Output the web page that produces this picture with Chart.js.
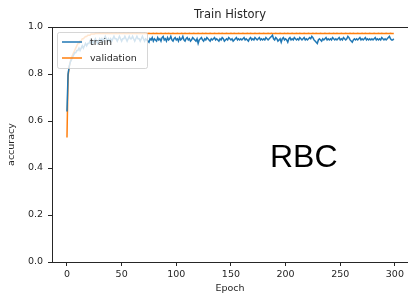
<!DOCTYPE html>
<html>
<head>
<meta charset="utf-8">
<script src="https://cdn.jsdelivr.net/npm/chart.js@4/dist/chart.umd.min.js"></script>
<style>
  html, body { margin: 0; padding: 0; background: #fff; }
  #wrap { width: 408px; height: 297px; }
</style>
</head>
<body>
<div id="wrap"><canvas id="myCanvas" width="408" height="297"></canvas></div>
<script>
// accuracy per epoch
const train = [
  0.64,0.80,0.83,0.85,0.86,0.87,0.88,0.89,0.89,0.90,0.90,0.91,0.90,0.91,0.92,0.91,0.92,0.93,0.92,0.93,
  0.93,0.94,0.93,0.94,0.93,0.94,0.95,0.94,0.93,0.94,0.95,0.94,0.95,0.94,0.95,0.96,0.95,0.94,0.95,0.94,
  0.95,0.94,0.95,0.96,0.95,0.95,0.94,0.95,0.96,0.95,0.94,0.95,0.95,0.96,0.95,0.94,0.95,0.96,0.95,0.95,
  0.96,0.95,0.94,0.95,0.96,0.95,0.95,0.94,0.95,0.96,0.95,0.94,0.95,0.945,0.94,0.935,0.95,0.945,0.955,0.94,
  0.95,0.945,0.94,0.955,0.945,0.95,0.94,0.955,0.96,0.945,0.95,0.94,0.955,0.945,0.95,0.96,0.945,0.94,0.95,0.955,
  0.945,0.95,0.94,0.955,0.945,0.95,0.96,0.945,0.94,0.95,0.955,0.945,0.95,0.94,0.945,0.955,0.95,0.945,0.94,0.95,
  0.93,0.945,0.95,0.955,0.945,0.94,0.95,0.945,0.955,0.95,0.945,0.94,0.95,0.945,0.95,0.955,0.945,0.95,0.945,0.94,
  0.95,0.945,0.955,0.95,0.94,0.945,0.95,0.945,0.955,0.95,0.945,0.95,0.94,0.945,0.95,0.955,0.945,0.95,0.945,0.95,
  0.945,0.95,0.955,0.945,0.95,0.945,0.94,0.95,0.955,0.945,0.95,0.945,0.955,0.95,0.945,0.95,0.955,0.945,0.95,0.945,
  0.95,0.945,0.955,0.95,0.945,0.95,0.955,0.96,0.965,0.95,0.945,0.955,0.95,0.94,0.945,0.95,0.935,0.95,0.955,0.945,
  0.95,0.945,0.935,0.95,0.955,0.945,0.95,0.945,0.955,0.95,0.945,0.95,0.945,0.955,0.95,0.945,0.95,0.955,0.945,0.95,
  0.945,0.95,0.955,0.95,0.96,0.955,0.945,0.94,0.935,0.93,0.945,0.95,0.945,0.94,0.95,0.945,0.95,0.955,0.945,0.95,
  0.945,0.95,0.945,0.955,0.95,0.945,0.95,0.945,0.95,0.955,0.945,0.95,0.945,0.955,0.95,0.945,0.95,0.96,0.955,0.945,
  0.94,0.935,0.945,0.95,0.945,0.95,0.945,0.95,0.955,0.945,0.95,0.945,0.95,0.955,0.945,0.95,0.945,0.95,0.945,0.95,
  0.945,0.95,0.955,0.945,0.95,0.945,0.95,0.945,0.955,0.95,0.945,0.95,0.945,0.95,0.955,0.96,0.95,0.945,0.945,0.95
];
const validation = [
  0.53,0.79,0.83,0.85,0.87,0.88,0.89,0.90,0.91,0.92,0.93,0.93,0.94,0.94,0.95,0.95,0.955,0.96,0.96,0.965,
  0.965,0.965,0.97,0.97,0.97,0.97,0.972,0.972,0.972,0.972,0.973,0.972,0.972,0.973,0.972,0.972,0.972,0.973,0.972,0.972,
  0.972,0.973,0.972,0.972,0.972,0.973,0.972,0.972,0.973,0.972,0.972,0.972,0.973,0.972,0.972,0.972,0.973,0.972,0.972,0.972,
  0.973,0.972,0.972,0.972,0.973,0.972,0.972,0.973,0.972,0.972,0.972,0.973,0.972,0.972,0.972,0.973,0.972,0.972,0.972,0.973,
  0.972,0.972,0.973,0.972,0.972,0.972,0.973,0.972,0.972,0.972,0.973,0.972,0.972,0.973,0.972,0.972,0.972,0.973,0.972,0.972,
  0.972,0.973,0.972,0.972,0.972,0.973,0.972,0.972,0.973,0.972,0.972,0.972,0.973,0.972,0.972,0.972,0.973,0.972,0.972,0.972,
  0.973,0.972,0.972,0.972,0.973,0.972,0.972,0.973,0.972,0.972,0.972,0.973,0.972,0.972,0.972,0.973,0.972,0.972,0.972,0.973,
  0.972,0.972,0.973,0.972,0.972,0.972,0.973,0.972,0.972,0.972,0.973,0.972,0.972,0.973,0.972,0.972,0.972,0.973,0.972,0.972,
  0.972,0.973,0.972,0.972,0.972,0.973,0.972,0.972,0.973,0.972,0.972,0.972,0.973,0.972,0.972,0.972,0.973,0.972,0.972,0.972,
  0.973,0.972,0.972,0.972,0.973,0.972,0.972,0.973,0.972,0.972,0.972,0.973,0.972,0.972,0.972,0.973,0.972,0.972,0.972,0.973,
  0.972,0.972,0.973,0.972,0.972,0.972,0.973,0.972,0.972,0.972,0.973,0.972,0.972,0.973,0.972,0.972,0.972,0.973,0.972,0.972,
  0.972,0.973,0.972,0.972,0.972,0.973,0.972,0.972,0.973,0.972,0.972,0.972,0.973,0.972,0.972,0.972,0.973,0.972,0.972,0.972,
  0.973,0.972,0.972,0.972,0.973,0.972,0.972,0.973,0.972,0.972,0.972,0.973,0.972,0.972,0.972,0.973,0.972,0.972,0.972,0.973,
  0.972,0.972,0.973,0.972,0.972,0.972,0.973,0.972,0.972,0.972,0.973,0.972,0.972,0.973,0.972,0.972,0.972,0.973,0.972,0.972,
  0.972,0.973,0.972,0.972,0.972,0.973,0.972,0.972,0.973,0.972,0.972,0.972,0.973,0.972,0.972,0.972,0.973,0.972,0.972,0.972
];
const seriesNames = ['train', 'validation'];
const xTicks = [0, 50, 100, 150, 200, 250, 300];
const yTicks = [0.0, 0.2, 0.4, 0.6, 0.8, 1.0];

const FONT = 'DejaVu Sans';
const INK = '#262626';

const toPoints = (arr) => arr.map((v, i) => ({ x: i, y: v }));

// matplotlib-ish extras: top spine, legend box, title, big label
const extras = {
	id: 'extras',
	afterDatasetsDraw(chart) {
		const { ctx, chartArea: a } = chart;
		ctx.save();
		// top spine
		ctx.strokeStyle = INK;
		ctx.lineWidth = 1;
		ctx.beginPath();
		ctx.moveTo(a.left, a.top + 0.5);
		ctx.lineTo(a.right, a.top + 0.5);
		ctx.stroke();

		// legend
		const lx = a.left + 5, ly = a.top + 5, lw = 90, lh = 36;
		ctx.fillStyle = 'rgba(255,255,255,0.8)';
		ctx.strokeStyle = 'rgba(204,204,204,0.8)';
		ctx.beginPath();
		ctx.roundRect(lx + 0.5, ly + 0.5, lw, lh, 2);
		ctx.fill();
		ctx.stroke();
		const colors = chart.data.datasets.map(d => d.borderColor);
		seriesNames.forEach((name, i) => {
			const yy = ly + 10 + i * 16;
			ctx.strokeStyle = colors[i];
			ctx.lineWidth = 1.5;
			ctx.beginPath();
			ctx.moveTo(lx + 5, yy);
			ctx.lineTo(lx + 25, yy);
			ctx.stroke();
			ctx.fillStyle = INK;
			ctx.font = '9.5px "' + FONT + '"';
			ctx.textBaseline = 'middle';
			ctx.textAlign = 'left';
			ctx.fillText(name, lx + 33, yy + 0.5);
		});

		// title
		ctx.fillStyle = INK;
		ctx.font = '11.5px "' + FONT + '"';
		ctx.textAlign = 'center';
		ctx.textBaseline = 'alphabetic';
		ctx.fillText('Train History', (a.left + a.right) / 2, a.top - 9);

		// big label
		ctx.fillStyle = '#000';
		ctx.font = '32px "Liberation Sans"';
		ctx.textAlign = 'left';
		ctx.fillText('RBC', 270, 167);
		ctx.restore();
	}
};

const ctx = document.querySelector('#myCanvas');
const chart = new Chart(ctx, {
	type: 'line',
	data: {
		datasets: [
			{ label: seriesNames[0], data: toPoints(train), borderColor: '#1f77b4', borderWidth: 1.5, pointRadius: 0, tension: 0 },
			{ label: seriesNames[1], data: toPoints(validation), borderColor: '#ff7f0e', borderWidth: 1.5, pointRadius: 0, tension: 0 }
		]
	},
	options: {
		responsive: false,
		animation: false,
		layout: { padding: { top: 27, right: 0, bottom: 3, left: 6 } },
		plugins: { legend: { display: false }, tooltip: { enabled: false } },
		scales: {
			x: {
				type: 'linear',
				min: -13.7,
				max: 312,
				afterBuildTicks: (s) => { s.ticks = xTicks.map(v => ({ value: v })); },
				afterFit: (s) => { s.height = 32; },
				ticks: { color: INK, font: { family: FONT, size: 9.5 }, padding: 3, maxRotation: 0 },
				grid: { drawOnChartArea: false, drawTicks: true, tickLength: 4, color: INK },
				border: { display: true, color: INK },
				title: { display: true, text: 'Epoch', color: INK, font: { family: FONT, size: 9.5 }, padding: { top: 0, bottom: 0 } }
			},
			y: {
				min: 0,
				max: 1,
				afterBuildTicks: (s) => { s.ticks = yTicks.map(v => ({ value: v })); },
				afterFit: (s) => { s.width = 46; },
				ticks: { color: INK, font: { family: FONT, size: 9.5 }, padding: 5, callback: (v) => v.toFixed(1) },
				grid: { drawOnChartArea: false, drawTicks: true, tickLength: 4, color: INK },
				border: { display: true, color: INK },
				title: { display: true, text: 'accuracy', color: INK, font: { family: FONT, size: 9.5 }, padding: { top: 0, bottom: 2 } }
			}
		}
	},
	plugins: [extras]
});
</script>
</body>
</html>
